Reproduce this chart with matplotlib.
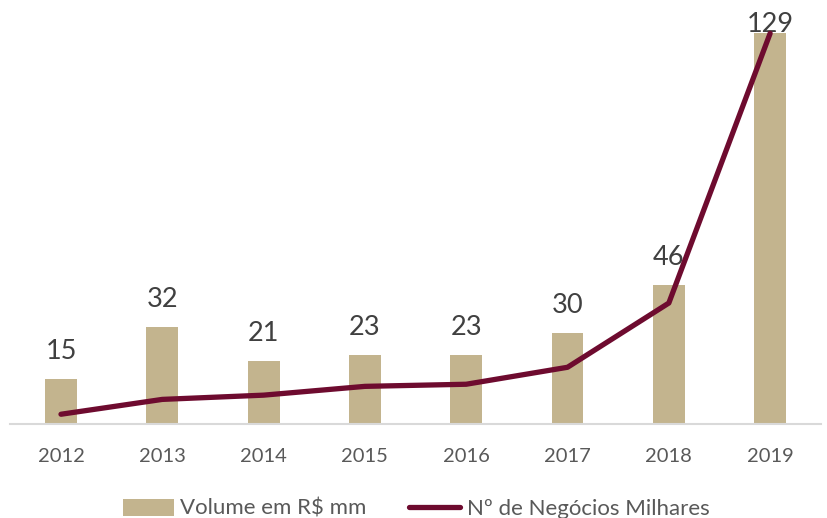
import matplotlib.pyplot as plt
import numpy as np

plt.rcParams['font.family'] = ['Lato', 'DejaVu Sans']

anos = ['2012', '2013', '2014', '2015', '2016', '2017', '2018', '2019']
volume = [15, 32, 21, 23, 23, 30, 46, 129]          # Volume em R$ mm
negocios = [3.3, 8.2, 9.6, 12.5, 13.2, 18.8, 40, 129]  # Nº de Negócios (escala relativa)

bar_color = '#c3b48e'
line_color = '#6e0b2f'

fig = plt.figure(figsize=(8.27, 5.18), dpi=100)
ax = fig.add_axes([0.0125, 0.181, 0.98, 0.819])
x = np.arange(len(anos))

ax.bar(x, volume, width=0.315, color=bar_color, label='Volume em R$ mm', zorder=2)
ax.set_ylim(0, 140)
ax.set_xlim(-0.5, len(anos) - 0.5)

ax2 = ax.twinx()
ax2.plot(x, negocios, color=line_color, lw=3.8, solid_capstyle='round',
         solid_joinstyle='round', label='Nº de Negócios Milhares', zorder=3)
ax2.set_ylim(0, 140)
ax2.set_yticks([])
for s in ax2.spines.values():
    s.set_visible(False)

# rótulos de dados
cap = max(volume) + 0.3
for xi, v in zip(x, volume):
    ax.text(xi, min(v + 6.6, cap), str(v), ha='center', va='baseline',
            fontsize=19.5, color='#404040', zorder=4)

for s in ['top', 'right', 'left']:
    ax.spines[s].set_visible(False)
ax.spines['bottom'].set_color('#d9d9d9')
ax.spines['bottom'].set_linewidth(1.5)
ax.set_yticks([])
ax.set_xticks(x)
ax.set_xticklabels(anos, fontsize=14.5, color='#595959')
ax.tick_params(axis='x', length=0, pad=17)

h1, l1 = ax.get_legend_handles_labels()
h2, l2 = ax2.get_legend_handles_labels()
fig.legend(h1 + h2, l1 + l2, loc='center', bbox_to_anchor=(0.503, 0.018),
           ncol=2, frameon=False, fontsize=16, labelcolor='#595959',
           handlelength=2.3, handleheight=0.8, handletextpad=0.3, columnspacing=1.9)

fig.savefig('out.png', dpi=100)
